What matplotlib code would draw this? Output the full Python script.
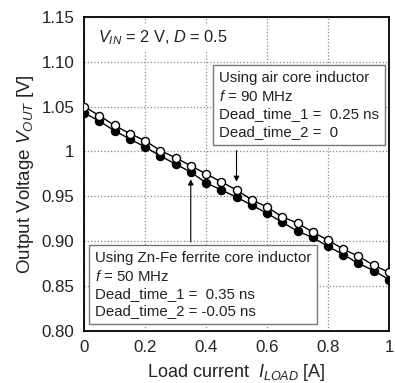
import numpy as np
import matplotlib
matplotlib.use('Agg')
import matplotlib.pyplot as plt

plt.rcParams['font.family'] = ['Liberation Sans', 'DejaVu Sans']
plt.rcParams['mathtext.fontset'] = 'custom'
plt.rcParams['mathtext.rm'] = 'Liberation Sans'
plt.rcParams['mathtext.it'] = 'Liberation Sans:italic'

# load current [A]
i_load = [0.0, 0.05, 0.1, 0.15, 0.2, 0.25, 0.3, 0.35, 0.4, 0.45, 0.5,
          0.55, 0.6, 0.65, 0.7, 0.75, 0.8, 0.85, 0.9, 0.95, 1.0]

# air core inductor, f = 90 MHz (open circles)
v_air = [1.050, 1.040, 1.029, 1.020, 1.012, 1.001, 0.993, 0.984, 0.975, 0.966, 0.957,
         0.946, 0.938, 0.927, 0.920, 0.910, 0.901, 0.891, 0.883, 0.873, 0.865]

# Zn-Fe ferrite core inductor, f = 50 MHz (filled circles)
v_znfe = [1.043, 1.034, 1.023, 1.014, 1.005, 0.995, 0.986, 0.977, 0.965, 0.957, 0.949,
          0.940, 0.931, 0.921, 0.911, 0.904, 0.894, 0.885, 0.875, 0.867, 0.857]

yticks = [0.80, 0.85, 0.90, 0.95, 1.00, 1.05, 1.10, 1.15]
ytick_labels = ['0.80', '0.85', '0.90', '0.95', '1', '1.05', '1.10', '1.15']
xticks = [0, 0.2, 0.4, 0.6, 0.8, 1.0]
xtick_labels = ['0', '0.2', '0.4', '0.6', '0.8', '1']

fig = plt.figure(figsize=(3.95, 3.83), dpi=100)
ax = fig.add_axes([0.2127, 0.1366, 0.7721, 0.819])

ax.plot(i_load, v_znfe, '-o', color='black', mfc='black', mec='black',
        ms=5.8, lw=1.0, zorder=3)
ax.plot(i_load, v_air, '-o', color='black', mfc='white', mec='black',
        ms=5.8, lw=1.0, mew=1.0, zorder=4)

ax.set_xlim(0, 1)
ax.set_ylim(0.80, 1.15)
ax.set_xticks(xticks)
ax.set_xticklabels(xtick_labels)
ax.set_yticks(yticks)
ax.set_yticklabels(ytick_labels)
ax.tick_params(length=0, pad=7, labelsize=12.2, colors='#222222')
ax.grid(True, linestyle=':', color='#888888', linewidth=0.9)
for s in ax.spines.values():
    s.set_linewidth(1.3)
    s.set_color('black')

ax.set_xlabel('Load current  $I_{LOAD}$ [A]', fontsize=13, color='#222222', labelpad=5)
ax.set_ylabel('Output Voltage $V_{OUT}$ [V]', fontsize=13.5, color='#222222', labelpad=4)

ax.text(0.046, 1.127, '$V_{IN}$ = 2 V, $D$ = 0.5', fontsize=11.8, va='center', ha='left',
        color='#222222', zorder=6,
        bbox=dict(facecolor='white', edgecolor='none', pad=3))

box = dict(boxstyle='square,pad=0.4', facecolor='white', edgecolor='#777777', linewidth=1.0)
ax.text(0.443, 1.0893,
        'Using air core inductor\n$f$ = 90 MHz\nDead_time_1 =  0.25 ns\nDead_time_2 =  0',
        fontsize=10.8, va='top', ha='left', color='#222222', linespacing=1.3,
        bbox=box, zorder=6)
ax.text(0.036, 0.8886,
        'Using Zn-Fe ferrite core inductor\n$f$ = 50 MHz\nDead_time_1 =  0.35 ns\nDead_time_2 = -0.05 ns',
        fontsize=10.8, va='top', ha='left', color='#222222', linespacing=1.3,
        bbox=box, zorder=6)

ax.annotate('', xy=(0.5, 0.963), xytext=(0.5, 1.004),
            arrowprops=dict(arrowstyle='-|>', color='black', lw=0.8, mutation_scale=8), zorder=5)
ax.annotate('', xy=(0.35, 0.972), xytext=(0.35, 0.896),
            arrowprops=dict(arrowstyle='-|>', color='black', lw=0.8, mutation_scale=8), zorder=5)

fig.savefig('out.png', dpi=100)
